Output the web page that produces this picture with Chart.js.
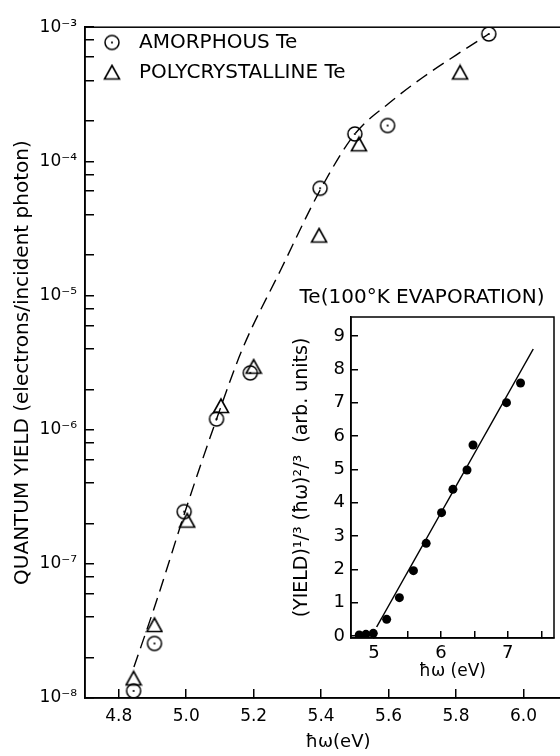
<!DOCTYPE html>
<html>
<head>
<meta charset="utf-8">
<script src="https://cdn.jsdelivr.net/npm/chart.js@4/dist/chart.umd.min.js"></script>
<style>
  html, body { margin: 0; padding: 0; background: #fff; overflow: hidden; }
  #wrap { position: relative; width: 560px; height: 756px; overflow: hidden; }
  #main { position: absolute; left: 0; top: 0; }
  #inset { position: absolute; left: 290px; top: 285px; }
</style>
</head>
<body>
<div id="wrap">
  <canvas id="main" width="600" height="756"></canvas>
  <canvas id="inset" width="270" height="415"></canvas>
</div>
<script>
// photon energy (eV) and quantum yield, amorphous film
const amorphousE = [4.844, 4.906, 4.994, 5.09, 5.19, 5.397, 5.5, 5.597, 5.897];
const amorphousQY = [1.13e-8, 2.55e-8, 2.45e-7, 1.2e-6, 2.65e-6, 6.3e-5, 1.6e-4, 1.85e-4, 8.9e-4];

// polycrystalline film
const polyE = [4.844, 4.906, 5.003, 5.103, 5.2, 5.394, 5.512, 5.812];
const polyQY = [1.4e-8, 3.5e-8, 2.1e-7, 1.5e-6, 2.95e-6, 2.8e-5, 1.34e-4, 4.6e-4];

// dashed guide curve
const curveE = [4.845, 4.91, 5.0, 5.09, 5.165, 5.28, 5.4, 5.5, 5.6, 5.7, 5.8, 5.897];
const curveQY = [1.7e-8, 5.1e-8, 2.6e-7, 1.2e-6, 3.9e-6, 1.55e-5, 6.3e-5, 1.6e-4, 2.7e-4, 4.2e-4, 6.2e-4, 8.9e-4];

const xTicks = [4.8, 5.0, 5.2, 5.4, 5.6, 5.8, 6.0];
const yTicks = [1e-8, 2e-8, 4e-8, 6e-8, 8e-8,
                1e-7, 2e-7, 4e-7, 6e-7, 8e-7,
                1e-6, 2e-6, 4e-6, 6e-6, 8e-6,
                1e-5, 2e-5, 4e-5, 6e-5, 8e-5,
                1e-4, 2e-4, 4e-4, 6e-4, 8e-4,
                1e-3];
const yDecades = [1e-8, 1e-7, 1e-6, 1e-5, 1e-4, 1e-3];
const yDecadeLabels = ['10⁻⁸', '10⁻⁷', '10⁻⁶', '10⁻⁵', '10⁻⁴', '10⁻³'];

// inset: (yield)^1/3 (hw)^2/3 vs photon energy, 100 K evaporated film
const insetE = [4.78, 4.88, 4.99, 5.19, 5.38, 5.59, 5.78, 6.01, 6.18, 6.39, 6.48, 6.98, 7.19];
const insetY = [0.03, 0.05, 0.08, 0.5, 1.15, 1.96, 2.78, 3.7, 4.4, 4.98, 5.73, 7.0, 7.59];
const fitE = [5.04, 7.38];
const fitY = [0.27, 8.61];
const insetXTicks = [5, 5.5, 6, 6.5, 7, 7.5];
const insetXLabels = ['5', '', '6', '', '7', ''];
const insetYTicks = [0, 1, 2, 3, 4, 5, 6, 7, 8, 9];

Chart.defaults.font.family = "'DejaVu Sans', sans-serif";
Chart.defaults.color = '#000';

function pts(xs, ys) {
  return xs.map((x, i) => ({ x: x, y: ys[i] }));
}

// open circle with a centre dot
function circleMark() {
  const c = document.createElement('canvas');
  c.width = 18; c.height = 18;
  const g = c.getContext('2d');
  g.strokeStyle = '#000';
  g.lineWidth = 1.5;
  g.beginPath();
  g.arc(9, 9, 7, 0, Math.PI * 2);
  g.stroke();
  g.fillStyle = '#000';
  g.beginPath();
  g.arc(9, 9, 1.1, 0, Math.PI * 2);
  g.fill();
  return c;
}

// open triangle
function triangleMark() {
  const c = document.createElement('canvas');
  c.width = 18; c.height = 18;
  const g = c.getContext('2d');
  g.strokeStyle = '#000';
  g.lineWidth = 1.6;
  g.lineJoin = 'miter';
  g.beginPath();
  g.moveTo(9, 2);
  g.lineTo(16.5, 15.5);
  g.lineTo(1.5, 15.5);
  g.closePath();
  g.stroke();
  return c;
}

const frame = {
  id: 'frame',
  afterDraw(chart) {
    const { ctx, chartArea: a } = chart;
    ctx.save();
    ctx.strokeStyle = '#000';
    ctx.lineWidth = 1.5;
    ctx.strokeRect(a.left, a.top, a.right - a.left, a.bottom - a.top);
    ctx.restore();
  }
};

function axisStyle(tickLen) {
  return {
    grid: { drawOnChartArea: false, drawTicks: true, tickLength: tickLen, color: '#000', lineWidth: 1.5 },
    border: { color: '#000', width: 1.5 }
  };
}

new Chart(document.getElementById('main'), {
  type: 'scatter',
  data: {
    datasets: [
      {
        label: 'AMORPHOUS Te',
        data: pts(amorphousE, amorphousQY),
        pointStyle: circleMark(),
        pointRadius: 8
      },
      {
        label: 'POLYCRYSTALLINE Te',
        data: pts(polyE, polyQY),
        pointStyle: triangleMark(),
        pointRadius: 8
      },
      {
        label: '',
        type: 'line',
        data: pts(curveE, curveQY),
        borderColor: '#000',
        borderWidth: 1.4,
        borderDash: [13, 7],
        pointRadius: 0,
        cubicInterpolationMode: 'monotone',
        fill: false
      }
    ]
  },
  options: {
    responsive: false,
    animation: false,
    devicePixelRatio: 1,
    layout: { padding: { top: 23, right: 5, left: 0, bottom: 0 } },
    plugins: {
      legend: {
        position: 'chartArea',
        align: 'start',
        // blank title only pushes the entries down inside the frame
        title: { display: true, text: ' ', font: { size: 10 }, padding: { top: 10.5, bottom: 0 } },
        labels: {
          usePointStyle: true,
          pointStyleWidth: 34,
          boxHeight: 20,
          padding: 10,
          color: '#000',
          font: { size: 20 },
          filter: item => item.text !== ''
        }
      },
      tooltip: { enabled: false }
    },
    scales: {
      x: {
        type: 'linear',
        position: 'bottom',
        min: 4.7,
        max: 6.2,
        ...axisStyle(-9),
        afterBuildTicks: s => { s.ticks = xTicks.map(v => ({ value: v })); },
        afterFit: s => { s.height = 58; },
        ticks: { padding: 17, font: { size: 17 }, autoSkip: false, maxRotation: 0,
                 callback: v => v.toFixed(1) },
        title: { display: true, text: 'ħω(eV)', font: { size: 18 }, padding: { top: 0, bottom: 3 } }
      },
      y: {
        type: 'logarithmic',
        min: 1e-8,
        max: 1e-3,
        ...axisStyle(-9),
        afterBuildTicks: s => { s.ticks = yTicks.map(v => ({ value: v })); },
        afterFit: s => { s.width = 85; },
        ticks: {
          padding: 17,
          font: { size: 17 },
          autoSkip: false,
          callback: v => {
            const i = yDecades.findIndex(d => Math.abs(d - v) / d < 1e-6);
            return i >= 0 ? yDecadeLabels[i] : '';
          }
        },
        title: { display: true, text: 'QUANTUM YIELD (electrons/incident photon)', font: { size: 20 },
                 padding: { top: 11, bottom: 0 } }
      }
    }
  },
  plugins: [frame]
});

new Chart(document.getElementById('inset'), {
  type: 'scatter',
  data: {
    datasets: [
      {
        label: 'data',
        data: pts(insetE, insetY),
        pointRadius: 4.5,
        backgroundColor: '#000',
        borderWidth: 0
      },
      {
        label: 'fit',
        type: 'line',
        data: pts(fitE, fitY),
        borderColor: '#000',
        borderWidth: 1.5,
        pointRadius: 0,
        fill: false
      }
    ]
  },
  options: {
    responsive: false,
    animation: false,
    devicePixelRatio: 1,
    layout: { padding: { top: 0, right: 6, left: 0, bottom: 0 } },
    plugins: {
      legend: { display: false },
      tooltip: { enabled: false },
      title: {
        display: true,
        text: 'Te(100°K EVAPORATION)',
        color: '#000',
        font: { size: 20, weight: 'normal' },
        padding: { top: 1, bottom: 7 }
      }
    },
    scales: {
      x: {
        type: 'linear',
        min: 4.657,
        max: 7.69,
        ...axisStyle(-7),
        afterBuildTicks: s => { s.ticks = insetXTicks.map(v => ({ value: v })); },
        afterFit: s => { s.height = 62; },
        ticks: { padding: 12, font: { size: 18 }, autoSkip: false, maxRotation: 0,
                 callback: (v, i) => insetXLabels[i] },
        title: { display: true, text: 'ħω (eV)', font: { size: 17 }, padding: { top: 0, bottom: 18 } }
      },
      y: {
        type: 'linear',
        min: -0.06,
        max: 9.57,
        ...axisStyle(-7),
        afterBuildTicks: s => { s.ticks = insetYTicks.map(v => ({ value: v })); },
        afterFit: s => { s.width = 61; },
        ticks: { padding: 13, font: { size: 18 }, autoSkip: false, callback: v => String(v) },
        title: { display: true, text: '(YIELD)¹/³ (ħω)²/³  (arb. units)', font: { size: 19 },
                 padding: { top: 1, bottom: 0 } }
      }
    }
  },
  plugins: [frame]
});
</script>
</body>
</html>
